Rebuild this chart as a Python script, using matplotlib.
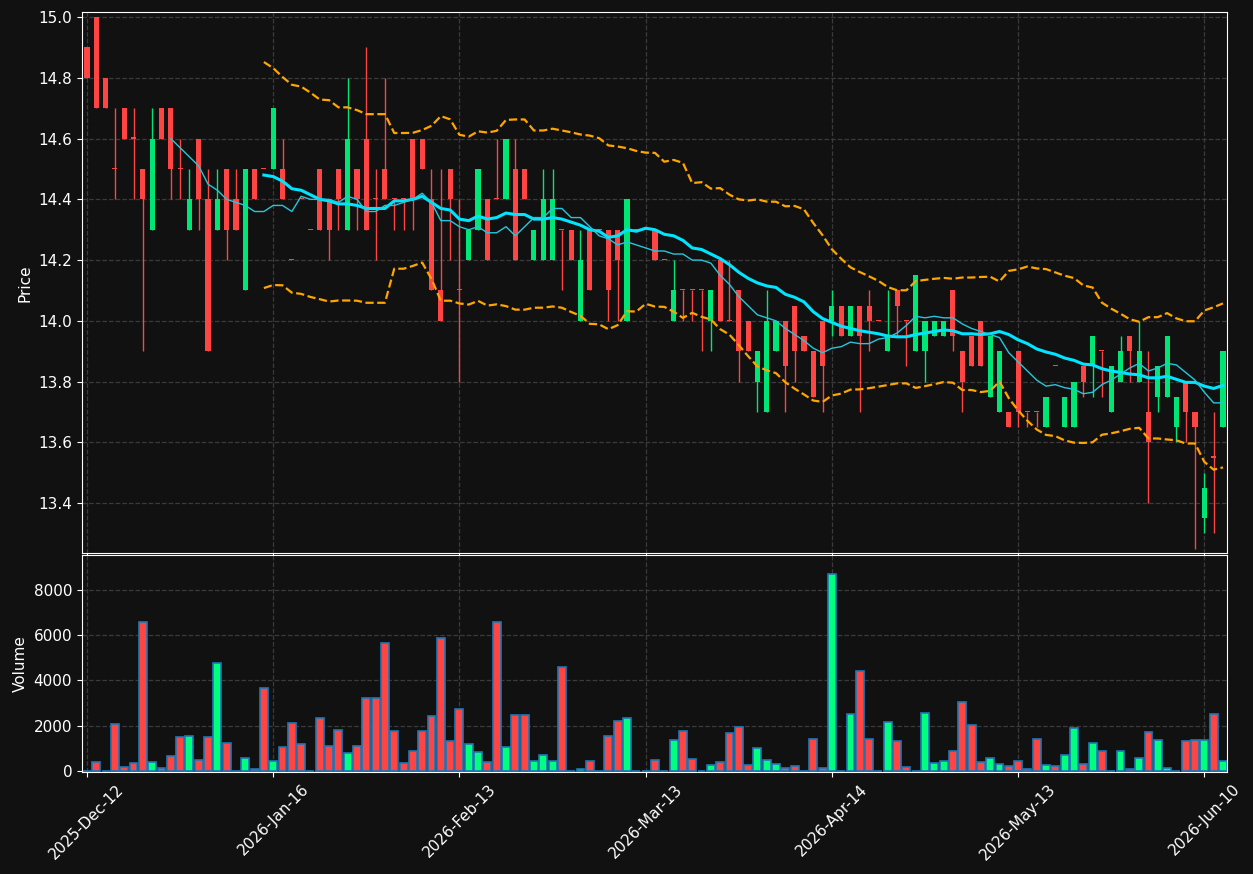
import numpy as np
import pandas as pd
import matplotlib
matplotlib.use('Agg')
import matplotlib.pyplot as plt

tick_labels = ['2025-Dec-12', '2026-Jan-16', '2026-Feb-13', '2026-Mar-13',
               '2026-Apr-14', '2026-May-13', '2026-Jun-10']

opens = [14.9, 15.0, 14.8, 14.5, 14.7, 14.6, 14.5, 14.3, 14.7, 14.7,
         14.5, 14.3, 14.6, 14.4, 14.3, 14.5, 14.4, 14.1, 14.5, 14.5,
         14.5, 14.5, 14.2, 14.4, 14.3, 14.5, 14.4, 14.5, 14.3, 14.5,
         14.6, 14.4, 14.5, 14.4, 14.4, 14.6, 14.6, 14.4, 14.1, 14.5,
         14.1, 14.2, 14.3, 14.4, 14.4, 14.4, 14.5, 14.5, 14.2, 14.2,
         14.2, 14.3, 14.3, 14.0, 14.3, 14.3, 14.3, 14.3, 14.0, 14.3,
         14.3, 14.3, 14.2, 14.0, 14.1, 14.1, 14.1, 14.0, 14.2, 14.0,
         14.1, 14.0, 13.8, 13.7, 13.9, 14.0, 14.05, 13.95, 13.9, 14.0,
         14.0, 14.05, 13.95, 14.05, 14.05, 14.0, 13.9, 14.1, 14.0, 13.9,
         13.9, 13.95, 13.95, 14.1, 13.9, 13.95, 14.0, 13.75, 13.7, 13.7,
         13.9, 13.7, 13.7, 13.65, 13.85, 13.65, 13.65, 13.85, 13.85, 13.9,
         13.7, 13.8, 13.95, 13.8, 13.7, 13.75, 13.75, 13.65, 13.8, 13.7,
         13.35, 13.55, 13.65]
closes = [14.8, 14.7, 14.7, 14.5, 14.6, 14.6, 14.4, 14.6, 14.6, 14.5,
          14.5, 14.4, 14.4, 13.9, 14.4, 14.3, 14.3, 14.5, 14.4, 14.5,
          14.7, 14.4, 14.2, 14.4, 14.3, 14.3, 14.3, 14.4, 14.6, 14.4,
          14.3, 14.4, 14.4, 14.4, 14.4, 14.4, 14.5, 14.1, 14.0, 14.4,
          14.1, 14.3, 14.5, 14.2, 14.4, 14.6, 14.2, 14.4, 14.3, 14.4,
          14.4, 14.3, 14.2, 14.2, 14.1, 14.3, 14.1, 14.2, 14.4, 14.3,
          14.3, 14.2, 14.2, 14.1, 14.1, 14.1, 14.1, 14.1, 14.0, 14.0,
          13.9, 13.9, 13.9, 14.0, 14.0, 13.85, 13.9, 13.9, 13.75, 13.85,
          14.05, 13.95, 14.05, 13.95, 14.0, 14.0, 13.95, 14.05, 14.0, 14.15,
          14.0, 14.0, 14.0, 13.95, 13.8, 13.85, 13.85, 13.95, 13.9, 13.65,
          13.7, 13.7, 13.7, 13.75, 13.85, 13.75, 13.8, 13.8, 13.95, 13.9,
          13.85, 13.9, 13.9, 13.9, 13.6, 13.85, 13.95, 13.75, 13.7, 13.65,
          13.45, 13.55, 13.9]
highs = [14.9, 15.0, 14.8, 14.7, 14.7, 14.7, 14.5, 14.7, 14.7, 14.7,
         14.6, 14.5, 14.6, 14.5, 14.5, 14.5, 14.5, 14.5, 14.5, 14.5,
         14.7, 14.6, 14.2, 14.4, 14.3, 14.5, 14.4, 14.5, 14.8, 14.5,
         14.9, 14.5, 14.8, 14.4, 14.4, 14.6, 14.6, 14.5, 14.5, 14.5,
         14.4, 14.3, 14.5, 14.4, 14.6, 14.6, 14.6, 14.5, 14.3, 14.5,
         14.5, 14.3, 14.3, 14.3, 14.3, 14.3, 14.3, 14.3, 14.4, 14.3,
         14.3, 14.3, 14.2, 14.2, 14.1, 14.1, 14.1, 14.1, 14.2, 14.2,
         14.1, 14.0, 13.9, 14.1, 14.0, 14.0, 14.05, 13.95, 13.9, 14.0,
         14.1, 14.05, 14.05, 14.05, 14.1, 14.0, 14.1, 14.1, 14.0, 14.15,
         14.0, 14.0, 14.0, 14.1, 13.9, 13.95, 14.0, 13.95, 13.9, 13.7,
         13.9, 13.7, 13.7, 13.75, 13.85, 13.75, 13.8, 13.85, 13.95, 13.9,
         13.85, 13.95, 13.95, 14.0, 13.9, 13.85, 13.95, 13.75, 13.8, 13.7,
         13.5, 13.7, 13.9]
lows = [14.8, 14.7, 14.7, 14.4, 14.6, 14.4, 13.9, 14.3, 14.6, 14.4,
        14.4, 14.3, 14.3, 13.9, 14.3, 14.2, 14.3, 14.1, 14.4, 14.5,
        14.5, 14.4, 14.2, 14.4, 14.3, 14.3, 14.2, 14.3, 14.3, 14.3,
        14.3, 14.2, 14.4, 14.3, 14.3, 14.3, 14.5, 14.1, 14.0, 14.2,
        13.8, 14.2, 14.3, 14.2, 14.4, 14.4, 14.2, 14.4, 14.2, 14.2,
        14.2, 14.1, 14.2, 14.0, 14.1, 14.3, 14.0, 14.0, 14.0, 14.3,
        14.3, 14.2, 14.2, 14.0, 14.0, 14.0, 13.9, 13.9, 14.0, 14.0,
        13.8, 13.9, 13.7, 13.7, 13.9, 13.7, 13.8, 13.9, 13.75, 13.7,
        13.95, 13.95, 13.95, 13.7, 13.9, 14.0, 13.9, 13.95, 13.85, 13.9,
        13.8, 13.95, 13.95, 13.9, 13.7, 13.85, 13.85, 13.75, 13.7, 13.65,
        13.65, 13.65, 13.65, 13.65, 13.85, 13.65, 13.65, 13.75, 13.75, 13.75,
        13.7, 13.8, 13.8, 13.8, 13.4, 13.7, 13.75, 13.6, 13.6, 13.25,
        13.3, 13.3, 13.65]
volumes = [0, 420, 0, 2060, 190, 340, 6600, 380, 120, 650,
           1490, 1530, 470, 1490, 4760, 1220, 0, 560, 100, 3650,
           430, 1050, 2100, 1180, 0, 2330, 1090, 1800, 780, 1090,
           3210, 3210, 5640, 1750, 340, 870, 1750, 2420, 5860, 1310,
           2720, 1180, 850, 380, 6570, 1080, 2460, 2460, 460, 690,
           430, 4580, 0, 70, 430, 0, 1530, 2200, 2330, 0,
           0, 470, 0, 1350, 1750, 520, 0, 250, 380, 1660,
           1930, 250, 1000, 470, 300, 120, 200, 0, 1400, 120,
           8690, 0, 2500, 4400, 1400, 0, 2150, 1310, 160, 0,
           2550, 340, 430, 870, 3030, 2020, 380, 560, 300, 200,
           430, 70, 1430, 250, 200, 690, 1890, 300, 1220, 870,
           0, 870, 70, 560, 1710, 1350, 120, 0, 1310, 1350,
           1350, 2500, 430]

idx = np.arange(len(closes))
o, c, h, l = map(np.array, (opens, closes, highs, lows))
up = c > o

close_s = pd.Series(closes)
ma10 = close_s.rolling(10).mean()
ma20 = close_s.rolling(20).mean()
sd20 = close_s.rolling(20).std(ddof=0)
upper = ma20 + 2 * sd20
lower = ma20 - 2 * sd20

bg = '#111111'
red = '#ff4444'
green_c = '#00e676'
green_v = '#00ff7f'

plt.rcParams['font.family'] = 'DejaVu Sans'
fig = plt.figure(figsize=(12.53, 8.74), dpi=100, facecolor=bg)
ax = fig.add_axes([0.0654, 0.367, 0.9136, 0.619])
axv = fig.add_axes([0.0654, 0.1167, 0.9136, 0.2483], sharex=ax)

for a in (ax, axv):
    a.set_facecolor(bg)
    for s in a.spines.values():
        s.set_color('white')
    a.tick_params(colors='white', labelsize=11)
    a.grid(True, color='#3a3a3a', linestyle='--', linewidth=0.9)
    a.set_axisbelow(True)

col = np.where(up, green_c, red)
ax.vlines(idx, l, h, colors=col, linewidth=1, zorder=2)
body = np.maximum(np.abs(c - o), 0.004)
ax.bar(idx, body, bottom=np.minimum(o, c), width=0.55, color=col, zorder=3)

ax.plot(idx, upper, color='#ffa500', linestyle='--', linewidth=1.6, zorder=4)
ax.plot(idx, lower, color='#ffa500', linestyle='--', linewidth=1.6, zorder=4)
ax.plot(idx, ma20, color='#00e5ff', linewidth=2.2, zorder=5)
ax.plot(idx, ma10, color='#26c6da', linewidth=1.0, zorder=5)

ax.set_ylim(13.235, 15.016)
ax.set_yticks([13.4, 13.6, 13.8, 14.0, 14.2, 14.4, 14.6, 14.8, 15.0])
ax.set_ylabel('Price', color='white', fontsize=11)
ax.tick_params(axis='x', labelbottom=False)

axv.bar(idx, volumes, width=0.85, color=np.where(up, green_v, red),
        edgecolor='#1f77b4', linewidth=1.2)
axv.set_ylim(-44, 9545)
axv.set_yticks([0, 2000, 4000, 6000, 8000])
axv.set_ylabel('Volume', color='white', fontsize=11)

axv.set_xlim(-0.54, 122.4)
axv.set_xticks(np.arange(0, 121, 20))
axv.set_xticklabels(tick_labels, rotation=45, ha='center')

fig.savefig('out.png', dpi=100, facecolor=bg)
